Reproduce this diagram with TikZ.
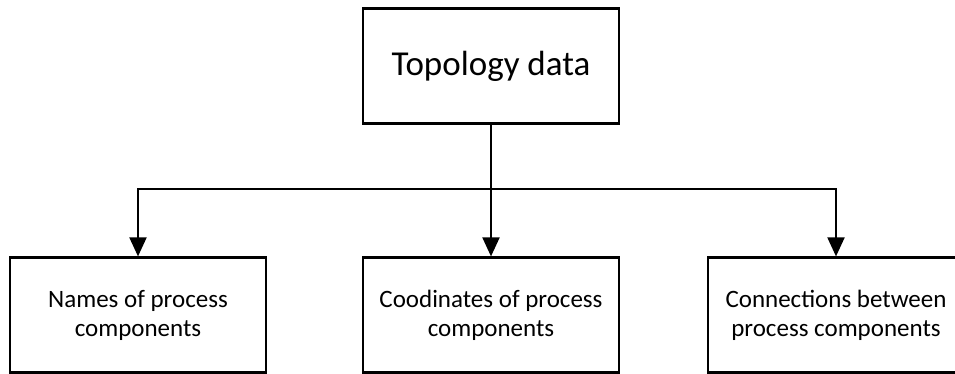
\documentclass[tikz,border=0pt]{standalone}
\usepackage{fontspec}
\setmainfont{Carlito}
\usetikzlibrary{arrows.meta}
\tikzstyle{box}=[draw, line width=2.2pt, minimum width=256pt, minimum height=115pt, align=center, inner sep=0pt]
\tikzstyle{sub}=[box, font=\fontsize{25}{29}\selectfont]

\begin{document}
\begin{tikzpicture}[x=1pt,y=-1pt,>={Triangle[width=17pt,length=19pt]},line width=2pt]
    \clip (0,0) rectangle (955,374);
    \useasboundingbox (0,0) rectangle (955,374);
    \node [box, font=\fontsize{35}{40}\selectfont] (top) at (491,66) {Topology data};
    \node [sub] (names) at (138,315) {Names of process\\components};
    \node [sub] (coords) at (491,315) {Coodinates of process\\components};
    \node [sub] (conns) at (836,315) {Connections between\\process components};
    \coordinate (split) at (491,189);
    \draw (top.south) -- (split);
    \draw[->] (split) -| (names.north);
    \draw[->] (split) -- (coords.north);
    \draw[->] (split) -| (conns.north);
\end{tikzpicture}
\end{document}
